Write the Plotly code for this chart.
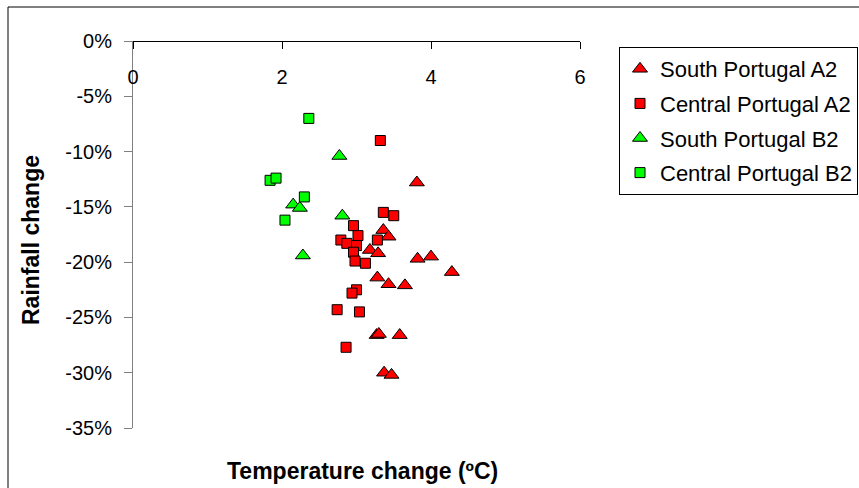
import plotly.graph_objects as go

# Temperature change (ºC) and rainfall change (%) per scenario / region
south_a2_temp = [3.81, 3.36, 3.43, 3.18, 3.29, 3.82, 4.00, 4.28, 3.28, 3.43, 3.65, 3.27, 3.30, 3.58, 3.37, 3.47]
south_a2_rain = [-12.8, -17.1, -17.7, -18.9, -19.2, -19.7, -19.5, -20.9, -21.4, -22.0, -22.1, -26.6, -26.5, -26.6, -30.0, -30.2]

central_a2_temp = [3.32, 3.36, 3.50, 2.96, 2.79, 3.02, 2.87, 3.00, 2.96, 3.28, 2.98, 3.12, 3.00, 2.94, 2.74, 3.04, 2.86]
central_a2_rain = [-9.0, -15.5, -15.8, -16.7, -18.0, -17.6, -18.3, -18.5, -19.1, -18.0, -19.9, -20.1, -22.5, -22.8, -24.3, -24.5, -27.7]

south_b2_temp = [2.77, 2.15, 2.24, 2.81, 2.28]
south_b2_rain = [-10.4, -14.8, -15.1, -15.8, -19.4]

central_b2_temp = [2.36, 1.84, 1.92, 2.30, 2.04]
central_b2_rain = [-7.0, -12.6, -12.4, -14.1, -16.2]

# Axis ticks
y_ticks = [0, -5, -10, -15, -20, -25, -30, -35]
y_tick_text = ["0%", "-5%", "-10%", "-15%", "-20%", "-25%", "-30%", "-35%"]
x_ticks = [0, 2, 4, 6]

series = [
    ("South Portugal A2", south_a2_temp, south_a2_rain, "triangle-up", "#FF0000"),
    ("Central Portugal A2", central_a2_temp, central_a2_rain, "square", "#FF0000"),
    ("South Portugal B2", south_b2_temp, south_b2_rain, "triangle-up", "#00FF00"),
    ("Central Portugal B2", central_b2_temp, central_b2_rain, "square", "#00FF00"),
]

FONT = "Arial, Liberation Sans, sans-serif"

fig = go.Figure()
for name, xs, ys, sym, col in series:
    fig.add_trace(go.Scatter(
        x=xs, y=ys, mode="markers", name=name, legendgroup=name,
        marker=dict(symbol=sym, color=col, size=13 if sym == "triangle-up" else 10,
                    line=dict(color="black", width=1)),
    ))

W, H = 859, 488
L, R, T, B = 133, 279, 41, 60
pw, ph = W - L - R, H - T - B


def px(xp):
    return (xp - L) / pw


def py(yp):
    return (H - B - yp) / ph


fig.update_layout(
    width=W, height=H, autosize=False,
    margin=dict(l=L, r=R, t=T, b=B, autoexpand=False),
    paper_bgcolor="white", plot_bgcolor="white",
    font=dict(family=FONT, color="black"),
    xaxis=dict(
        range=[0, 6], tickvals=x_ticks, anchor="free", position=1, side="bottom",
        showline=True, linecolor="black", linewidth=1,
        ticks="outside", ticklen=7, tickcolor="black",
        showgrid=False, zeroline=False,
        tickfont=dict(size=20, family=FONT, color="black"),
        ticklabelstandoff=11,
    ),
    yaxis=dict(
        range=[-35, 0], tickvals=y_ticks, ticktext=y_tick_text,
        showline=True, linecolor="#808080", linewidth=1,
        ticks="outside", ticklen=8, tickcolor="#808080",
        showgrid=False, zeroline=False,
        tickfont=dict(size=20, family=FONT, color="black"),
        ticklabelstandoff=8,
    ),
    legend=dict(
        x=px(619), y=py(47), xanchor="left", yanchor="top",
        bgcolor="white", bordercolor="black", borderwidth=1,
        font=dict(size=22, family=FONT, color="black"),
        tracegroupgap=3,
    ),
    showlegend=True,
    annotations=[
        dict(text="Rainfall change", x=px(31), y=py(240), xref="paper", yref="paper",
             showarrow=False, textangle=-90, xanchor="center", yanchor="middle",
             font=dict(size=23, family=FONT, color="black", weight="bold")),
        dict(text="Temperature change (ºC)", x=px(362), y=py(471), xref="paper", yref="paper",
             showarrow=False, xanchor="center", yanchor="middle",
             font=dict(size=23, family=FONT, color="black", weight="bold")),
    ],
    shapes=[
        dict(type="rect", xref="paper", yref="paper",
             x0=px(8), x1=px(W + 5), y0=py(7), y1=py(H + 5),
             line=dict(color="black", width=1), layer="below"),
    ],
)

fig.write_html("out.html")
